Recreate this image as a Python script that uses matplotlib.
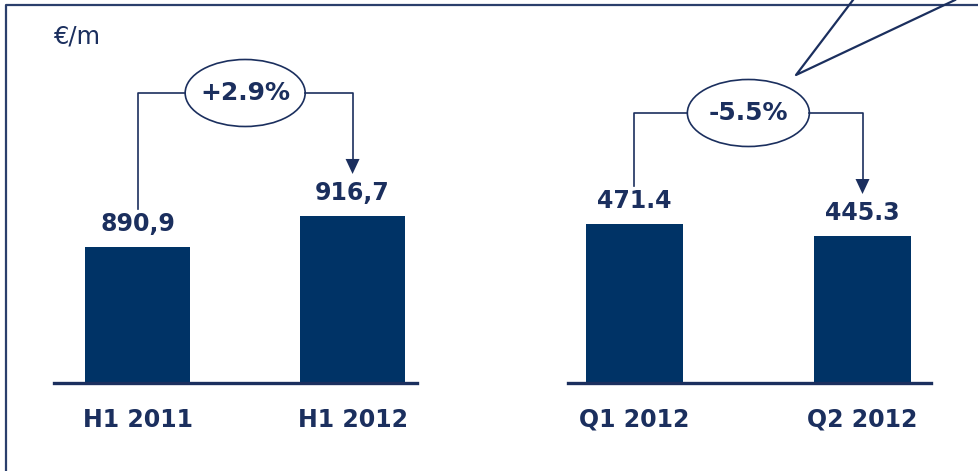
import numpy as np
import matplotlib
matplotlib.use("Agg")
import matplotlib.pyplot as plt
from matplotlib.lines import Line2D
from matplotlib.patches import Ellipse, Polygon
from matplotlib.transforms import Affine2D

# data
half_labels = ["H1 2011", "H1 2012"]
half_values = [890.9, 916.7]
half_texts = ["890,9", "916,7"]
half_change = "+2.9%"

quarter_labels = ["Q1 2012", "Q2 2012"]
quarter_values = [471.4, 445.3]
quarter_texts = ["471.4", "445.3"]
quarter_change = "-5.5%"

unit = "\u20ac/m"

W, H = 979, 471
BAR = "#003366"
INK = "#1b2f5e"

plt.rcParams["font.family"] = ["DejaVu Sans"]

fig = plt.figure(figsize=(W / 100, H / 100), dpi=100)
# reference pixel coords (origin top left)
pix = Affine2D().scale(1 / W, -1 / H).translate(0, 1) + fig.transFigure


def make_panel(x_left, x_right, ylim, width, labels, values):
    ax = fig.add_axes([x_left / W, 1 - 383 / H, (x_right - x_left) / W, 383 / H])
    x = np.arange(len(values))
    ax.bar(x, values, width=width, color=BAR, zorder=2)
    ax.set_ylim(*ylim)
    ax.set_xlim(-0.39, 1.30)
    ax.axhline(ylim[0], color=INK, lw=2.4, zorder=3, clip_on=False)
    for s in ax.spines.values():
        s.set_visible(False)
    ax.set_yticks([])
    ax.set_xticks(x)
    ax.set_xticklabels(labels, fontsize=17, fontweight="bold", color=INK)
    ax.tick_params(axis="x", length=0, pad=18)
    ax.patch.set_alpha(0)
    return ax


def top_px(ax, i, v):
    dx, dy = ax.transData.transform((i, v))
    return dx, H - dy


def annotate_panel(ax, values, texts, change, level, ell_w):
    (x0, t0), (x1, t1) = [top_px(ax, i, v) for i, v in enumerate(values)]
    for i, (v, s) in enumerate(zip(values, texts)):
        ax.annotate(s, (i, v), xytext=(0, 8), textcoords="offset points",
                    ha="center", va="bottom", fontsize=17,
                    fontweight="bold", color=INK)
    cx = (x0 + x1) / 2
    ell = Ellipse((cx, level), ell_w, 67, transform=pix, fill=False,
                  edgecolor=INK, lw=1.2)
    fig.add_artist(ell)
    fig.text(cx / W, 1 - level / H, change, ha="center", va="center",
             fontsize=18, fontweight="bold", color=INK)
    lw = 1.2
    fig.add_artist(Line2D([x0, x0, cx - ell_w / 2], [t0 - 38, level, level],
                          transform=pix, color=INK, lw=lw))
    tip = t1 - 42
    fig.add_artist(Line2D([cx + ell_w / 2, x1, x1], [level, level, tip - 12],
                          transform=pix, color=INK, lw=lw))
    fig.add_artist(Polygon([[x1 - 7, tip - 15], [x1 + 7, tip - 15], [x1, tip]],
                           closed=True, transform=pix, color=INK, lw=0))


ax_l = make_panel(54, 417, (777.7, 1096.4), 0.49, half_labels, half_values)
ax_r = make_panel(568, 931, (125.6, 958.6), 0.425, quarter_labels, quarter_values)
ax_r.set_xlim(-0.29, 1.30)

annotate_panel(ax_l, half_values, half_texts, half_change, 93, 120)
annotate_panel(ax_r, quarter_values, quarter_texts, quarter_change, 113, 122)

# frame
fig.add_artist(Line2D([6, 6, W], [H, 5, 5], transform=pix, color="#2b3f6c", lw=1.6))
# callout pointer from slide graphic above
fig.add_artist(Line2D([853, 796, 955], [0, 75, 0], transform=pix, color=INK, lw=1.6))

fig.text(53 / W, 1 - 36 / H, unit, ha="left", va="center", fontsize=17.5, color=INK)

fig.savefig("out.png", dpi=100)
